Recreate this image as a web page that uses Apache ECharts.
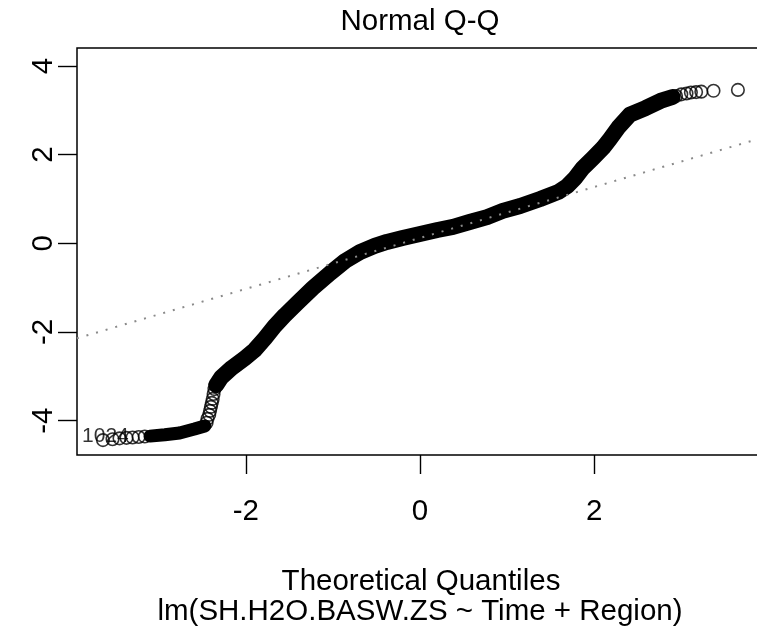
<!DOCTYPE html>
<html>
<head>
<meta charset="utf-8">
<script src="https://cdn.jsdelivr.net/npm/echarts@6/dist/echarts.min.js"></script>
<style>
html,body{margin:0;padding:0;background:#fff;}
#chart{width:757px;height:638px;}
</style>
</head>
<body>
<div id="chart"></div>
<script>
// ---- data ----
const xTicks = [-2, 0, 2];
const yTicks = [-4, -2, 0, 2, 4];

// sparse points (drawn as open circles)
const leftTailX = [-3.64, -3.53, -3.45, -3.37, -3.30, -3.23, -3.16];
const leftTailY = [-4.44, -4.42, -4.40, -4.39, -4.38, -4.37, -4.36];
const stepX = [-2.45, -2.44, -2.42, -2.41, -2.40, -2.39, -2.38, -2.37, -2.36];
const stepY = [-4.05, -3.96, -3.87, -3.78, -3.69, -3.60, -3.51, -3.40, -3.29];
const rightTailX = [2.94, 3.00, 3.06, 3.11, 3.17, 3.23, 3.37, 3.65];
const rightTailY = [3.32, 3.36, 3.38, 3.40, 3.41, 3.42, 3.44, 3.46];

// dense stretches of overlapping points (drawn as a thick band)
const band1X = [-3.10, -2.93, -2.76, -2.59, -2.47];
const band1Y = [-4.35, -4.32, -4.28, -4.19, -4.12];
const band2X = [-2.34, -2.28, -2.16, -2.01, -1.90, -1.78, -1.67, -1.55, -1.41, -1.23, -1.03, -0.86, -0.69, -0.52, -0.38, -0.20, 0.00, 0.20, 0.38, 0.57, 0.77, 0.95, 1.15, 1.38, 1.59, 1.69, 1.78, 1.87, 1.99, 2.10, 2.18, 2.28, 2.41, 2.59, 2.76, 2.90];
const band2Y = [-3.20, -3.02, -2.81, -2.59, -2.41, -2.14, -1.87, -1.62, -1.35, -1.01, -0.67, -0.40, -0.20, -0.06, 0.03, 0.12, 0.21, 0.30, 0.37, 0.48, 0.59, 0.73, 0.84, 1.00, 1.16, 1.29, 1.47, 1.70, 1.93, 2.15, 2.35, 2.62, 2.90, 3.05, 3.21, 3.30];

// reference (qqline) endpoints
const qqLineX = [-3.94, 3.94];
const qqLineY = [-2.145, 2.385];

// id label
const idLabelX = [-3.88];
const idLabelY = [-4.35];
const idLabelText = ['1024'];

const titleText = 'Normal Q-Q';
const xTitle = 'Theoretical Quantiles';
const subTitle = 'lm(SH.H2O.BASW.ZS ~ Time + Region)';

const zip = (a, b) => a.map((v, i) => [v, b[i]]);
const FONT = '"Liberation Sans", Arial, Helvetica, sans-serif';
const FS = 29.5;

const chart = echarts.init(document.getElementById('chart'), null, {renderer: 'canvas'});
chart.setOption({
  animation: false,
  backgroundColor: '#ffffff',
  grid: {
    left: 77, top: 48, width: 686, height: 407,
    outerBoundsMode: 'none', containLabel: false,
    show: true, borderColor: '#000', borderWidth: 1.5, backgroundColor: 'transparent'
  },
  xAxis: {
    type: 'value', min: -3.938, max: 3.938,
    axisLine: {show: false, onZero: false},
    splitLine: {show: false},
    axisTick: {show: true, inside: false, length: 19, customValues: xTicks, lineStyle: {color: '#000', width: 1.4}},
    axisLabel: {customValues: xTicks, margin: 42, color: '#000', fontSize: FS, fontFamily: FONT}
  },
  yAxis: {
    type: 'value', min: -4.776, max: 4.405,
    axisLine: {show: false, onZero: false},
    splitLine: {show: false},
    axisTick: {show: true, inside: false, length: 19, customValues: yTicks, lineStyle: {color: '#000', width: 1.4}},
    axisLabel: {customValues: yTicks, rotate: 90, margin: 18, color: '#000', fontSize: FS, fontFamily: FONT}
  },
  series: [
    {
      type: 'line', data: zip(band1X, band1Y), showSymbol: false, silent: true,
      lineStyle: {color: '#000', width: 13, cap: 'round', join: 'round'}, z: 2
    },
    {
      type: 'line', data: zip(band2X, band2Y), showSymbol: false, silent: true,
      lineStyle: {color: '#000', width: 16, cap: 'round', join: 'round'}, z: 2
    },
    {
      type: 'scatter', data: zip(leftTailX, leftTailY).concat(zip(stepX, stepY), zip(rightTailX, rightTailY)),
      symbol: 'circle', symbolSize: 12.5, silent: true,
      itemStyle: {color: 'rgba(0,0,0,0)', borderColor: '#000', borderWidth: 1.6}, z: 3
    },
    {
      type: 'scatter', data: zip(idLabelX, idLabelY), symbolSize: 0, silent: true,
      label: {show: true, position: 'right', distance: 0, formatter: (p) => idLabelText[p.dataIndex],
        color: '#000', fontSize: 21, fontFamily: FONT}, z: 4
    },
    {
      type: 'line', data: zip(qqLineX, qqLineY), showSymbol: false, silent: true,
      lineStyle: {color: '#8a8a8a', width: 2, type: [2, 8]}, z: 5
    }
  ],
  graphic: [
    {type: 'text', x: 420, y: 22, style: {text: titleText, align: 'center', verticalAlign: 'middle', fill: '#000', font: FS + 'px ' + FONT}},
    {type: 'text', x: 421, y: 582, style: {text: xTitle, align: 'center', verticalAlign: 'middle', fill: '#000', font: FS + 'px ' + FONT}},
    {type: 'text', x: 420, y: 612, style: {text: subTitle, align: 'center', verticalAlign: 'middle', fill: '#000', font: FS + 'px ' + FONT}}
  ]
});
</script>
</body>
</html>
